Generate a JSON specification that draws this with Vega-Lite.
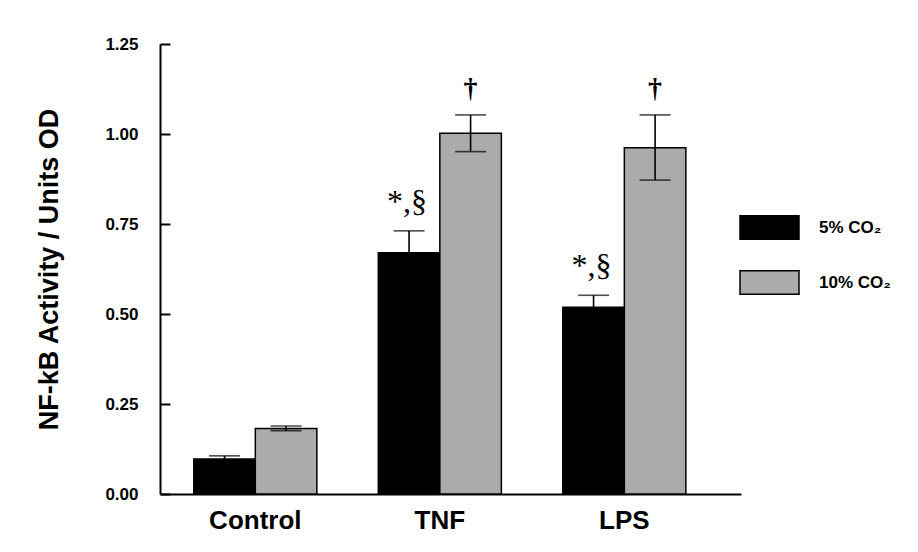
{
  "$schema": "https://vega.github.io/schema/vega-lite/v6.json",
  "autosize": {"type": "none"},
  "padding": {"left": 160, "top": 44, "right": 177, "bottom": 58},
  "width": 581,
  "height": 450,
  "background": "white",
  "config": {
    "font": "Liberation Sans",
    "view": {"stroke": null}
  },
  "data": {
    "values": [
      {"group": "Control", "co2": "5% CO₂", "value": 0.097, "lo": 0.088, "hi": 0.106, "note": ""},
      {"group": "Control", "co2": "10% CO₂", "value": 0.182, "lo": 0.176, "hi": 0.189, "note": ""},
      {"group": "TNF", "co2": "5% CO₂", "value": 0.670, "lo": 0.609, "hi": 0.731, "note": "*,§"},
      {"group": "TNF", "co2": "10% CO₂", "value": 1.002, "lo": 0.951, "hi": 1.053, "note": "†"},
      {"group": "LPS", "co2": "5% CO₂", "value": 0.519, "lo": 0.486, "hi": 0.552, "note": "*,§"},
      {"group": "LPS", "co2": "10% CO₂", "value": 0.962, "lo": 0.872, "hi": 1.053, "note": "†"}
    ]
  },
  "encoding": {
    "x": {
      "field": "group",
      "type": "nominal",
      "sort": ["Control", "TNF", "LPS"],
      "scale": {"paddingInner": 0.333, "paddingOuter": 0.241, "align": 0.38},
      "axis": {
        "title": null,
        "labelAngle": 0,
        "labelFontSize": 26,
        "labelFontWeight": "bold",
        "labelColor": "black",
        "labelPadding": 13,
        "ticks": false,
        "domainColor": "black",
        "domainWidth": 2
      }
    },
    "xOffset": {
      "field": "co2",
      "type": "nominal",
      "sort": ["5% CO₂", "10% CO₂"],
      "scale": {"paddingInner": 0, "paddingOuter": 0}
    }
  },
  "layer": [
    {
      "mark": {"type": "bar", "stroke": "black", "strokeWidth": 1.5},
      "encoding": {
        "y": {
          "field": "value",
          "type": "quantitative",
          "scale": {"domain": [0, 1.25], "nice": false},
          "axis": {
            "title": "NF-kB Activity / Units OD",
            "titleFontSize": 27,
            "titleFontWeight": "bold",
            "titleColor": "black",
            "titlePadding": 41,
            "values": [0, 0.25, 0.5, 0.75, 1, 1.25],
            "format": ".2f",
            "labelFontSize": 17,
            "labelFontWeight": "bold",
            "labelColor": "black",
            "labelPadding": 32,
            "tickSize": -10,
            "tickWidth": 2,
            "tickColor": "black",
            "domainColor": "black",
            "domainWidth": 2,
            "grid": false
          }
        },
        "fill": {
          "field": "co2",
          "type": "nominal",
          "sort": ["5% CO₂", "10% CO₂"],
          "scale": {"domain": ["5% CO₂", "10% CO₂"], "range": ["#000000", "#ababab"]},
          "legend": {
            "title": null,
            "orient": "none",
            "legendX": 579,
            "legendY": 153,
            "symbolType": "M-1,-0.4H1V0.4H-1Z",
            "symbolSize": 3481,
            "symbolStrokeColor": "black",
            "symbolStrokeWidth": 1.5,
            "symbolOpacity": 1,
            "labelFontSize": 17,
            "labelFontWeight": "bold",
            "labelColor": "black",
            "labelOffset": 19,
            "rowPadding": 9
          }
        }
      }
    },
    {
      "mark": {"type": "rule", "color": "black", "strokeWidth": 1.6},
      "encoding": {
        "y": {"field": "lo", "type": "quantitative"},
        "y2": {"field": "hi"}
      }
    },
    {
      "mark": {"type": "tick", "color": "black", "thickness": 1.6, "size": 31, "orient": "horizontal"},
      "encoding": {"y": {"field": "hi", "type": "quantitative"}}
    },
    {
      "mark": {"type": "tick", "color": "black", "thickness": 1.6, "size": 31, "orient": "horizontal"},
      "encoding": {"y": {"field": "lo", "type": "quantitative"}}
    },
    {
      "transform": [{"filter": "datum.note == '*,§'"}],
      "mark": {"type": "text", "font": "Liberation Serif", "fontSize": 32, "color": "black", "baseline": "alphabetic", "dy": -19, "dx": -2},
      "encoding": {
        "y": {"field": "hi", "type": "quantitative"},
        "text": {"field": "note"}
      }
    },
    {
      "transform": [{"filter": "datum.note == '†'"}],
      "mark": {"type": "text", "font": "Liberation Serif", "fontSize": 28, "fontWeight": "bold", "color": "black", "baseline": "alphabetic", "dy": -18},
      "encoding": {
        "y": {"field": "hi", "type": "quantitative"},
        "text": {"field": "note"}
      }
    }
  ]
}
